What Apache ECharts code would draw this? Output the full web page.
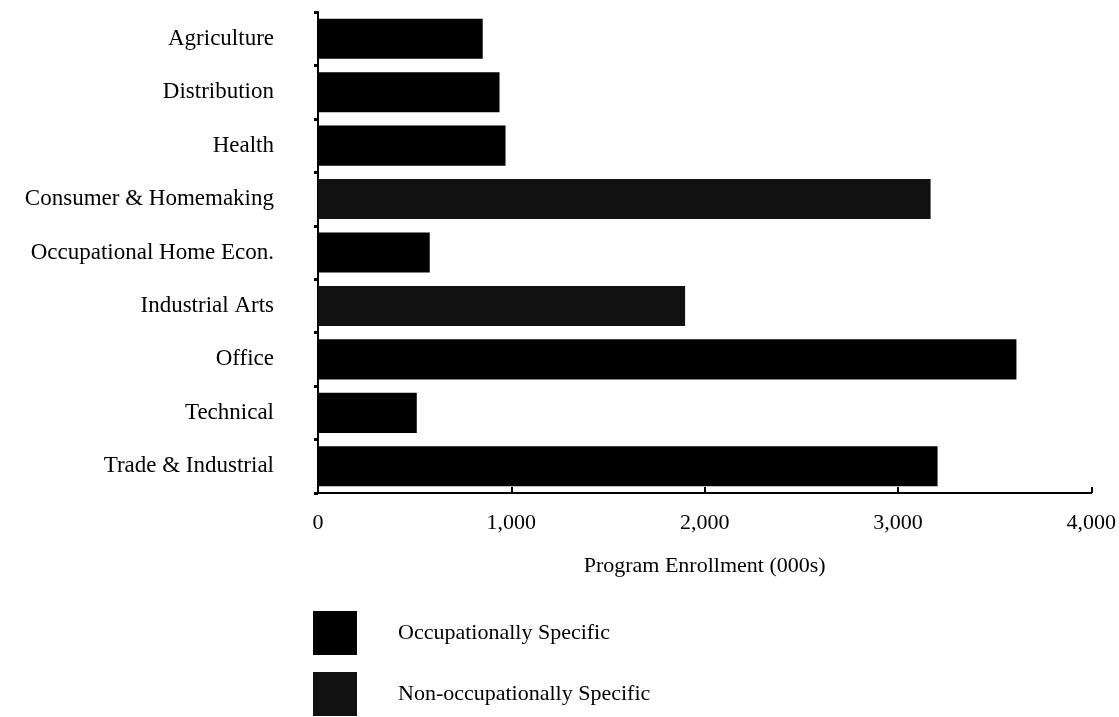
<!DOCTYPE html>
<html>
<head>
<meta charset="utf-8">
<script src="https://cdn.jsdelivr.net/npm/echarts@6/dist/echarts.min.js"></script>
<style>
html,body{margin:0;padding:0;background:#fff;}
#chart{width:1119px;height:717px;}
</style>
</head>
<body>
<div id="chart"></div>
<script>
var categories = ["Agriculture","Distribution","Health","Consumer & Homemaking","Occupational Home Econ.","Industrial Arts","Office","Technical","Trade & Industrial"];
var occupationallySpecific = [852, 939, 970, 0, 578, 0, 3613, 511, 3205];
var nonOccupationallySpecific = [0, 0, 0, 3169, 0, 1899, 0, 0, 0];
var xTicks = [0, 1000, 2000, 3000, 4000];

var font = "Liberation Serif";
var chart = echarts.init(document.getElementById('chart'));
chart.setOption({
  animation: false,
  backgroundColor: '#fff',
  grid: {left: 318, right: 26, top: 12, bottom: 224, containLabel: false},
  xAxis: {
    type: 'value', min: xTicks[0], max: xTicks[xTicks.length-1], interval: 1000,
    name: 'Program Enrollment (000s)', nameLocation: 'middle', nameGap: 62,
    nameTextStyle: {fontFamily: font, fontSize: 22, color: '#000'},
    axisLine: {show: true, lineStyle: {color: '#000', width: 2}},
    axisTick: {show: true, inside: true, length: 6, lineStyle: {color: '#000', width: 2}},
    axisLabel: {fontFamily: font, fontSize: 22, color: '#000', margin: 19,
      formatter: function(v){ return v.toLocaleString('en-US'); }},
    splitLine: {show: false}
  },
  yAxis: {
    type: 'category', data: categories, inverse: true,
    axisLine: {show: true, lineStyle: {color: '#000', width: 2}},
    axisTick: {show: true, length: 4, lineStyle: {color: '#000', width: 3}},
    axisLabel: {fontFamily: font, fontSize: 23, color: '#000', margin: 44}
  },
  legend: {
    orient: 'vertical', left: 313, top: 611, height: 110, padding: 0,
    itemWidth: 44, itemHeight: 44, itemGap: 17,
    icon: 'rect',
    textStyle: {fontFamily: font, fontSize: 22, color: '#000', padding: [4,0,0,36]},
    data: ['Occupationally Specific', 'Non-occupationally Specific']
  },
  series: [
    {name: 'Occupationally Specific', type: 'bar', stack: 'total', data: occupationallySpecific,
      barCategoryGap: '25%', itemStyle: {color: '#000'}},
    {name: 'Non-occupationally Specific', type: 'bar', stack: 'total', data: nonOccupationallySpecific,
      barCategoryGap: '25%', itemStyle: {color: '#111'}}
  ]
});
</script>
</body>
</html>
